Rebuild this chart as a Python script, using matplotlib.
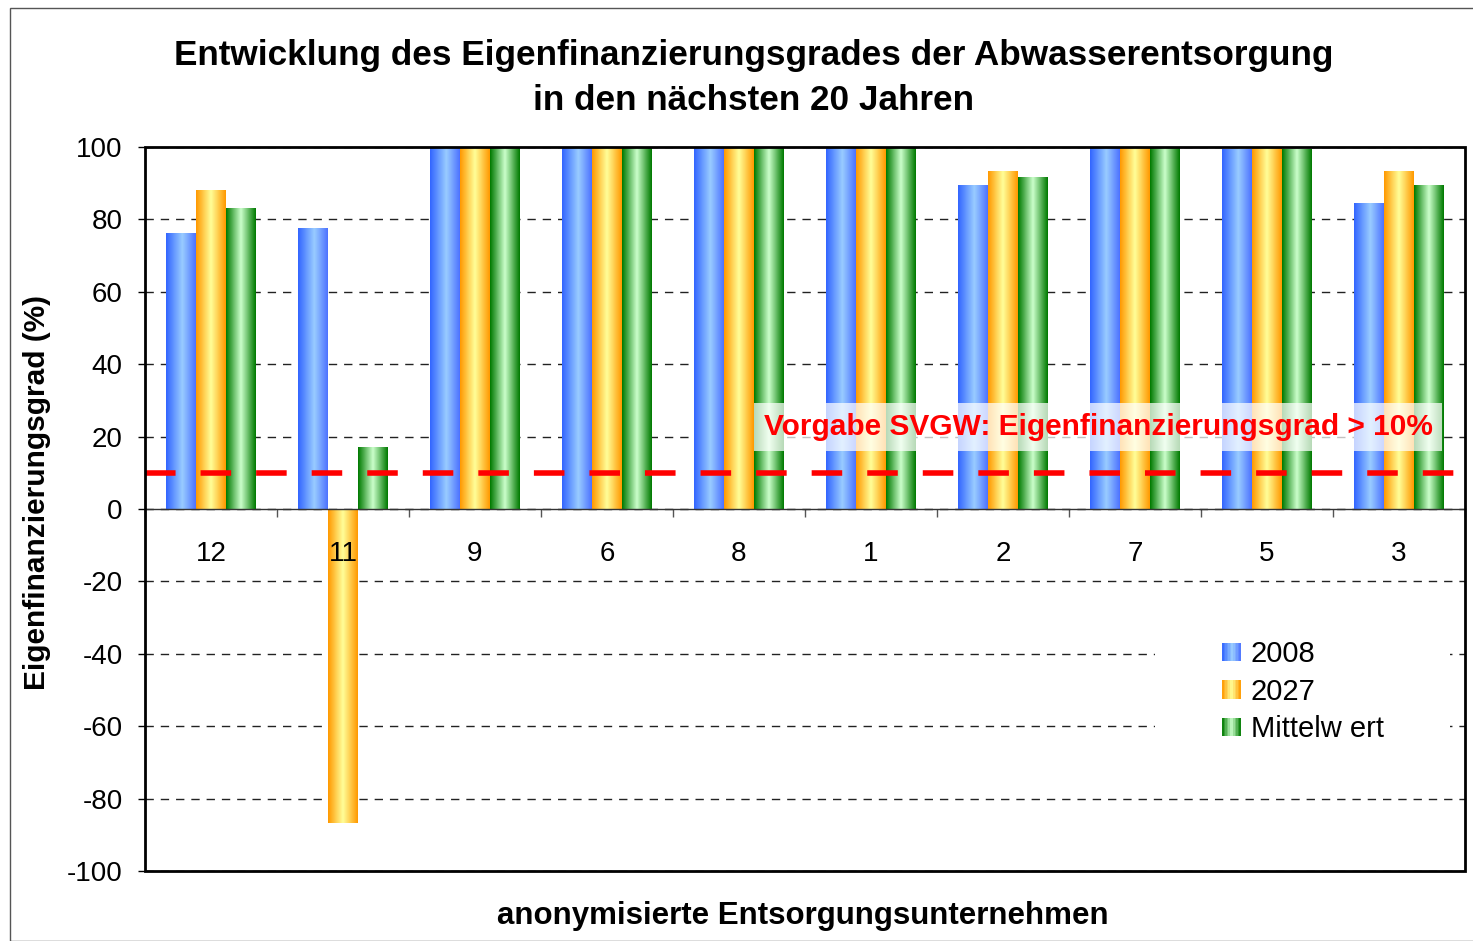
import numpy as np
import matplotlib
matplotlib.use("Agg")
import matplotlib.pyplot as plt
from matplotlib.colors import LinearSegmentedColormap
from matplotlib.legend_handler import HandlerBase
from matplotlib.patches import Rectangle

plt.rcParams['font.family'] = ['Liberation Sans', 'DejaVu Sans']
plt.rcParams['axes.unicode_minus'] = False

# data
companies = ['12', '11', '9', '6', '8', '1', '2', '7', '5', '3']
series_names = ['2008', '2027', 'Mittelw ert']
v2008 = [76.0, 77.6, 100, 100, 100, 100, 89.5, 100, 99.2, 84.3]
v2027 = [88.1, -86.7, 100, 100, 100, 100, 93.1, 100, 100, 93.1]
vmean = [82.9, 17.1, 100, 100, 100, 100, 91.7, 100, 99.2, 89.5]
target = 10

cmaps = [
    LinearSegmentedColormap.from_list('b', [(0, '#3366ff'), (0.55, '#99ccff'), (1, '#4d73ff')]),
    LinearSegmentedColormap.from_list('o', [(0, '#ff9900'), (0.5, '#ffff99'), (1, '#ff9900')]),
    LinearSegmentedColormap.from_list('g', [(0, '#007a00'), (0.5, '#ccffcc'), (1, '#007a00')]),
]
grad = np.linspace(0, 1, 64).reshape(1, -1)


class GradHandler(HandlerBase):
    def __init__(self, cmap):
        super().__init__()
        self.cmap = cmap

    def create_artists(self, legend, orig_handle, xd, yd, width, height, fontsize, trans):
        n = 12
        size = height * 0.9
        x0 = xd + width - size
        out = []
        for i in range(n):
            r = Rectangle((x0 + i * size / n, yd - (size - height) / 2), size / n, size,
                          facecolor=self.cmap((i + 0.5) / n), edgecolor='none', transform=trans)
            out.append(r)
        return out


fig = plt.figure(figsize=(14.73, 9.41), dpi=100)
ax = fig.add_axes([145 / 1473, 1 - 871 / 941, 1320 / 1473, 724 / 941])

x = np.arange(len(companies))
w = 0.227
handles = []
for k, (vals, cm) in enumerate(zip([v2008, v2027, vmean], cmaps)):
    bars = ax.bar(x + (k - 1) * w, vals, w, color='none', edgecolor='none', zorder=2)
    for b in bars:
        y0, y1 = sorted([b.get_y(), b.get_y() + b.get_height()])
        ax.imshow(grad, cmap=cm, aspect='auto', zorder=2,
                  extent=[b.get_x(), b.get_x() + b.get_width(), y0, y1])
    handles.append(Rectangle((0, 0), 1, 1))

ax.set_xlim(-0.5, len(companies) - 0.5)
ax.set_ylim(-100, 100)

# target line
ax.axhline(target, color='#ff0000', lw=4, dashes=(5.5, 4.5), zorder=4)
ax.text(6.72, 22.6, 'Vorgabe SVGW: Eigenfinanzierungsgrad > 10%', color='#ff0000',
        fontsize=21.5, fontweight='bold', ha='center', va='center', zorder=5,
        bbox=dict(facecolor='white', alpha=0.72, edgecolor='none', pad=7))

# axes styling
ax.set_yticks(np.arange(-100, 101, 20))
ax.tick_params(axis='y', labelsize=20, length=5, width=1, direction='out', pad=11)
ax.yaxis.grid(True, color='#222222', lw=1, dashes=(6, 5), zorder=1)
ax.set_axisbelow(True)

ax.spines['bottom'].set_position(('data', 0))
ax.spines['bottom'].set_linewidth(1)
ax.spines['bottom'].set_color('#333333')
for s in ['top', 'left', 'right']:
    ax.spines[s].set_visible(False)
ax.add_patch(Rectangle((0, 0), 1, 1, transform=ax.transAxes, fill=False,
                       edgecolor='black', lw=2, zorder=6, clip_on=False))

ax.set_xticks(np.arange(-0.5, len(companies), 1))
ax.set_xticklabels([])
ax.tick_params(axis='x', which='major', length=6, width=1, color='#555555', direction='out')
for i, name in enumerate(companies):
    ax.text(x[i], -12.4, name, fontsize=20, ha='center', va='center', zorder=8)

fig.text(37 / 1473, 1 - 492 / 941, 'Eigenfinanzierungsgrad (%)', fontsize=21.5, fontweight='bold',
         rotation=90, ha='center', va='center')
fig.text(803 / 1473, 1 - 916 / 941, 'anonymisierte Entsorgungsunternehmen', fontsize=22.5,
         fontweight='bold', ha='center', va='center')

fig.text(754 / 1473, 1 - 55 / 941, 'Entwicklung des Eigenfinanzierungsgrades der Abwasserentsorgung',
         fontsize=25.3, fontweight='bold', ha='center', va='center')
fig.text(754 / 1473, 1 - 101 / 941, 'in den nächsten 20 Jahren',
         fontsize=25.3, fontweight='bold', ha='center', va='center')

leg = ax.legend(handles, series_names, loc='upper left', bbox_to_anchor=(1159 / 1473, 1 - 617 / 941),
                bbox_transform=fig.transFigure, fontsize=21, frameon=True, fancybox=False,
                framealpha=1, edgecolor='none', handler_map={h: GradHandler(c) for h, c in zip(handles, cmaps)},
                handlelength=2.0, handletextpad=0.35, labelspacing=0.32, borderpad=0.3)
leg.set_zorder(7)
# white area behind the legend, as in the original
ax.add_patch(Rectangle((1155 / 1473, 1 - 745 / 941), 295 / 1473, 118 / 941, transform=fig.transFigure,
                       facecolor='white', edgecolor='none', zorder=3))

fig.add_artist(Rectangle((10 / 1473, 0), 1.0, 1 - 8 / 941, transform=fig.transFigure,
                         fill=False, edgecolor='#555555', lw=1))

fig.savefig('out.png', dpi=100)
